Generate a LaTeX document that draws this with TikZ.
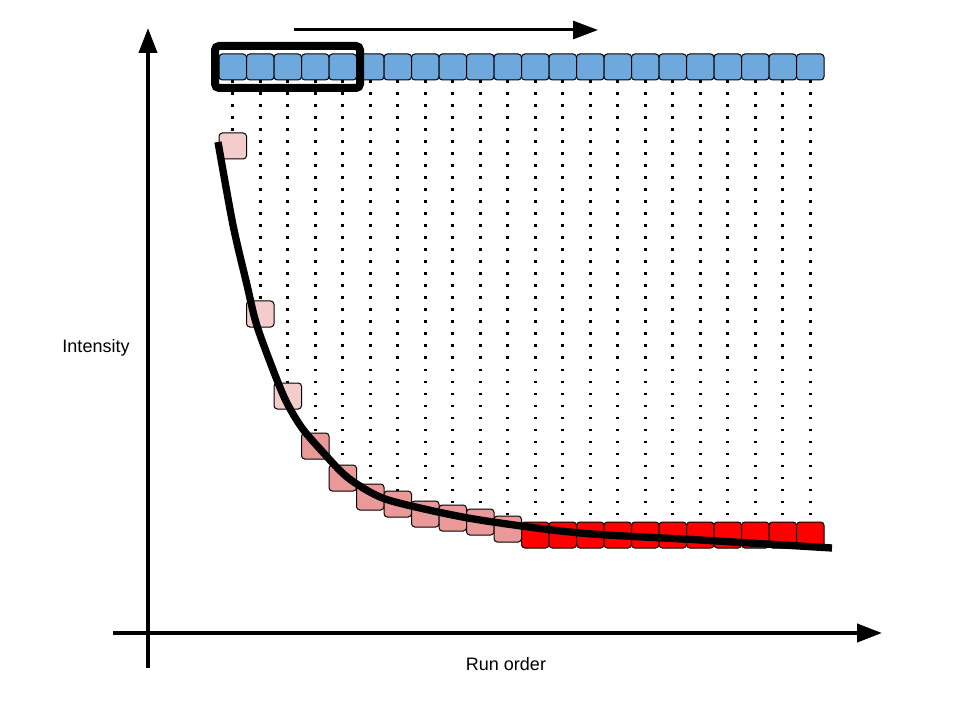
\documentclass[tikz,border=0pt]{standalone}
\usepackage{fontspec}
\setmainfont{Liberation Sans}
\usepackage{tikz}
\usetikzlibrary{
    arrows.meta,
    positioning
}
\definecolor{runblue}{HTML}{6FA8DC}
\definecolor{lightpink}{HTML}{F4CCCC}
\definecolor{midpink}{HTML}{EA9999}
\definecolor{runred}{HTML}{FF0000}

\begin{document}
\begin{tikzpicture}[x=0.75pt, y=-0.75pt,
        cell/.style={draw, line width=0.75pt, rounded corners=2.5pt, inner sep=0pt,
            minimum width=20.625pt, minimum height=19.5pt},
        axisline/.style={line width=3pt, -{Triangle[length=18.75pt, width=13.5pt]}},
        dotline/.style={line width=2.2pt, dash pattern=on 2.2pt off 6.8pt},
        axislabel/.style={font=\fontsize{13.5}{16}\selectfont},
        trend/.style={line width=5.5pt}]
    \useasboundingbox (0, 0) rectangle (960, 720);

    \coordinate (yb) at (148, 668);
    \coordinate (yt) at (148, 28);
    \coordinate (xl) at (113, 633);
    \coordinate (xr) at (882, 633);
    \coordinate (ws) at (294, 30);
    \coordinate (we) at (598, 30);

    \node[axislabel] (int) at (96, 348) {Intensity};
    \node[axislabel] (ro) at (506, 664) {Run order};

    \draw[axisline] (yb) -- (yt);
    \draw[axisline] (xl) -- (xr);
    \draw[axisline, line width=2.25pt] (ws) -- (we);

    \foreach \i/\y/\c in {1/146/lightpink, 2/314/lightpink, 3/396/lightpink,
            4/446/midpink, 5/478/midpink, 6/497/midpink, 7/504/midpink,
            8/514/midpink, 9/518/midpink, 10/522/midpink, 11/529/midpink,
            12/535/runred, 13/535/runred, 14/535/runred, 15/535/runred,
            16/535/runred, 17/535/runred, 18/535/runred, 19/535/runred,
            20/535/runred, 21/535/runred, 22/535/runred} {
        \node[cell, fill=runblue] (b\i) at ({232.75 + 27.5*(\i-1)}, 67) {};
        \node[cell, fill=\c] (r\i) at ({232.75 + 27.5*(\i-1)}, \y) {};
        \draw[dotline] (b\i.south) -- (r\i.north);
    };

    \draw[line width=6pt, rounded corners=3pt] (215, 46) rectangle (360, 88);

    \draw[trend] plot[smooth] coordinates {
        (218, 142) (233, 225) (247, 285) (257, 326) (277, 380) (288, 405)
        (302, 428) (320, 449) (347, 477) (380, 497) (420, 508) (480, 520)
        (580, 533) (700, 540) (832, 548)};
\end{tikzpicture}
\end{document}
